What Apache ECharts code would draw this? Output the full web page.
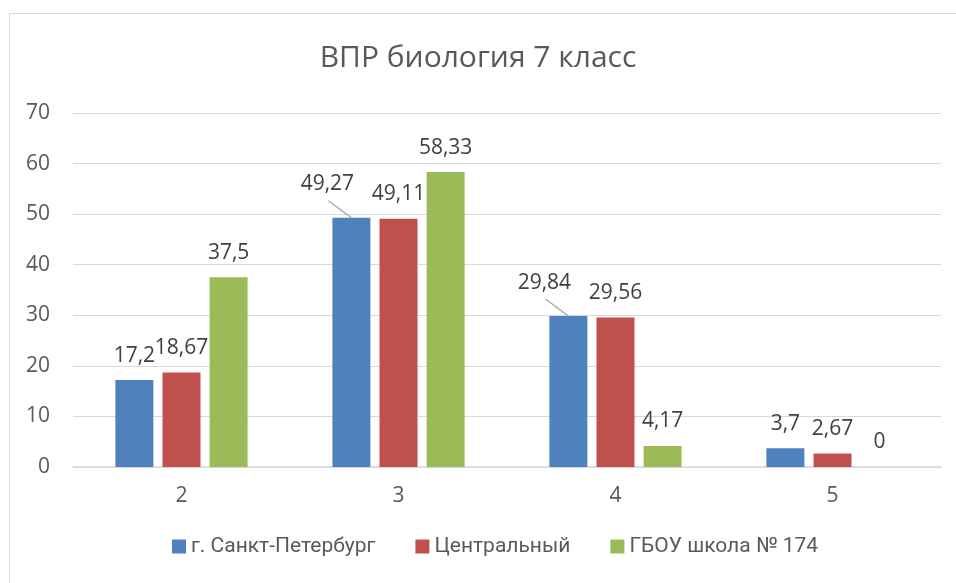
<!DOCTYPE html>
<html>
<head>
<meta charset="utf-8">
<script src="https://cdn.jsdelivr.net/npm/echarts@6/dist/echarts.min.js"></script>
<style>
  html, body { margin: 0; padding: 0; background: #fff; }
  #frame {
    position: absolute; left: 9px; top: 13px; width: 960px; height: 600px;
    border: 1px solid #d9d9d9; box-sizing: border-box;
  }
  #chart { position: absolute; left: 0; top: 0; width: 956px; height: 583px; }
</style>
</head>
<body>
<div id="frame"></div>
<div id="chart"></div>
<script>
const categories = ['2', '3', '4', '5'];
const seriesNames = ['г. Санкт-Петербург', 'Центральный', 'ГБОУ школа № 174'];
const spbValues = [17.2, 49.27, 29.84, 3.7];
const centralValues = [18.67, 49.11, 29.56, 2.67];
const schoolValues = [37.5, 58.33, 4.17, 0];
const yTicks = [0, 10, 20, 30, 40, 50, 60, 70];
const colors = ['#4f81bd', '#c0504d', '#9bbb59'];

const font = '"Open Sans", "Noto Sans", sans-serif';

// Excel moved a couple of labels aside and drew leader lines
function isMoved(s, j) {
  return s === 0 && (j === 1 || j === 2);
}

function movedLabel(params) {
  if (isMoved(params.seriesIndex, params.dataIndex)) {
    return { dx: -24, dy: -9 };
  }
  return {};
}

function makeSeries(name, values, i) {
  return {
    name: name,
    type: 'bar',
    data: values,
    barWidth: 38,
    barGap: '24%',
    itemStyle: { color: colors[i] },
    label: {
      show: true,
      position: 'top',
      distance: 14,
      color: '#404040',
      fontSize: 21,
      fontFamily: font,
      formatter: p => String(p.value).replace('.', ',')
    },
    labelLayout: movedLabel
  };
}

const chart = echarts.init(document.getElementById('chart'));
chart.setOption({
  animation: false,
  title: {
    text: 'ВПР биология 7 класс',
    left: 'center',
    top: 38,
    textStyle: { color: '#595959', fontSize: 30, fontWeight: 'normal', fontFamily: font }
  },
  legend: {
    bottom: 21,
    left: 167,
    itemWidth: 14,
    itemHeight: 14,
    itemGap: 40,
    icon: 'rect',
    textStyle: { color: '#595959', fontSize: 21, fontFamily: 'Roboto, ' + font },
    data: seriesNames
  },
  grid: { left: 73, right: 15, top: 113, bottom: 116 },
  xAxis: {
    type: 'category',
    data: categories,
    axisLine: { lineStyle: { color: '#d9d9d9', width: 1.5 } },
    axisTick: { show: false },
    axisLabel: { color: '#595959', fontSize: 21, fontFamily: font, margin: 19 }
  },
  yAxis: {
    type: 'value',
    min: yTicks[0],
    max: yTicks[yTicks.length - 1],
    interval: 10,
    axisLine: { show: false },
    axisTick: { show: false },
    axisLabel: { color: '#595959', fontSize: 21, fontFamily: font, margin: 23 },
    splitLine: { lineStyle: { color: '#d9d9d9', width: 1.2 } }
  },
  series: [
    makeSeries(seriesNames[0], spbValues, 0),
    makeSeries(seriesNames[1], centralValues, 1),
    makeSeries(seriesNames[2], schoolValues, 2)
  ]
});

// leader lines from the moved labels to the top middle of their bars
const spbData = chart.getModel().getSeriesByIndex(0).getData();
const leaders = [];
spbValues.forEach((v, j) => {
  if (!isMoved(0, j)) return;
  const l = spbData.getItemLayout(j);
  const cx = l.x + l.width / 2;
  const top = Math.min(l.y, l.y + l.height);
  leaders.push({
    type: 'line',
    shape: { x1: cx - 23, y1: top - 17, x2: cx, y2: top },
    style: { stroke: '#a6a6a6', lineWidth: 1.3 },
    z: 10
  });
});
chart.setOption({ graphic: leaders });
</script>
</body>
</html>
